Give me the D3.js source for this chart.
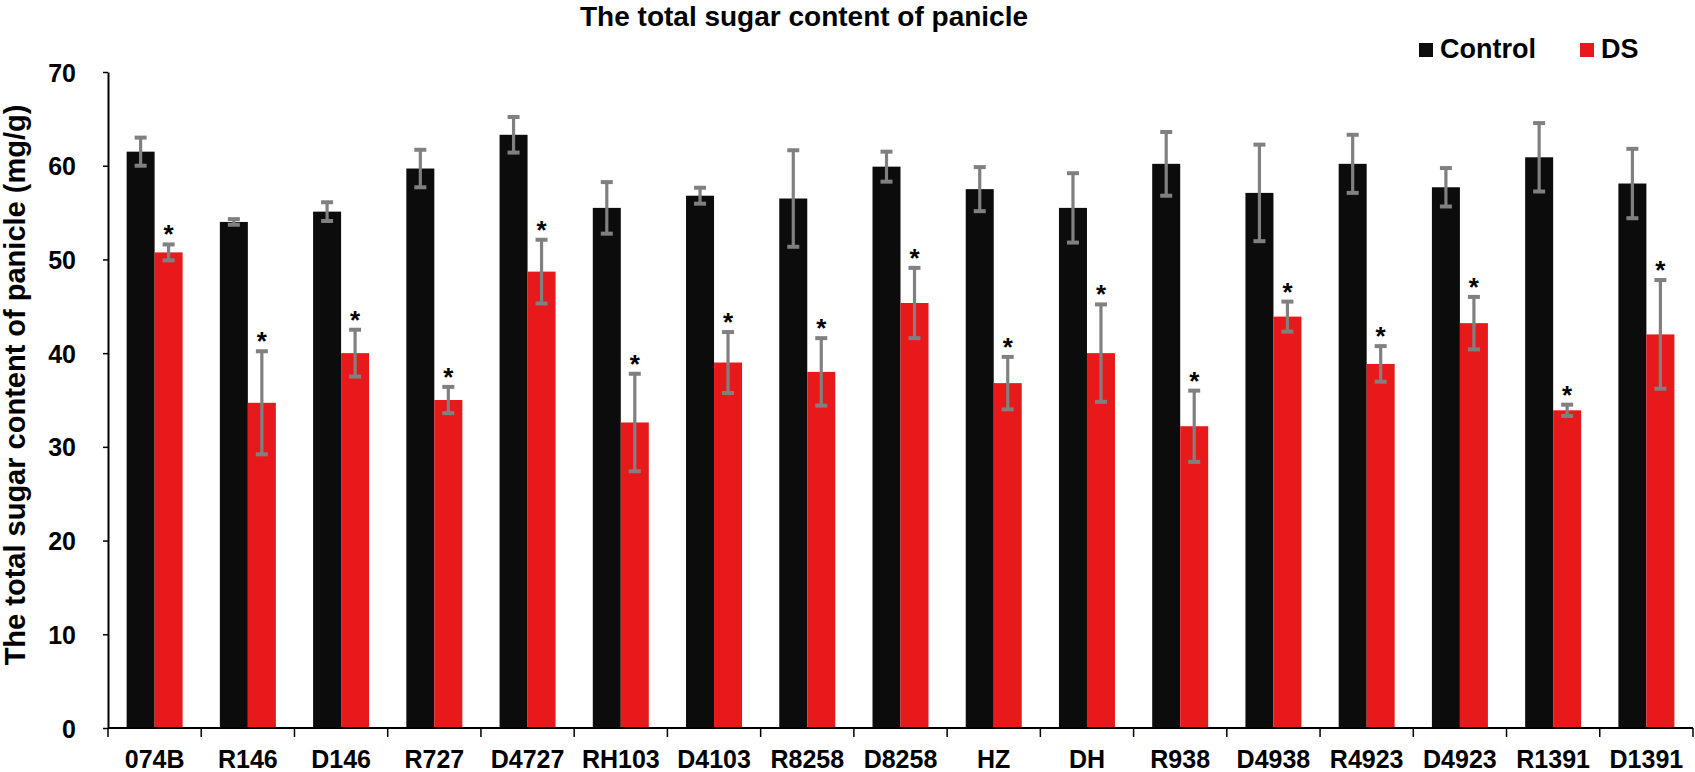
<!DOCTYPE html>
<head>
    <meta charset="utf-8">
    <title>The total sugar content of panicle</title>
    <script src="https://d3js.org/d3.v7.min.js"></script>
    <style>
    body { margin: 0; background: #fff; }
    text { font-family: "Liberation Sans", Arial, sans-serif; font-weight: bold; fill: #000; }
    </style>
</head>

<body>
    <script>
    // data
    var categories = ["074B", "R146", "D146", "R727", "D4727", "RH103", "D4103", "R8258", "D8258",
                      "HZ", "DH", "R938", "D4938", "R4923", "D4923", "R1391", "D1391"];
    var control    = [61.5, 54.0, 55.1, 59.7, 63.3, 55.5, 56.8, 56.5, 59.9, 57.5, 55.5, 60.2, 57.1, 60.2, 57.7, 60.9, 58.1];
    var controlErr = [1.5, 0.3, 1.0, 2.0, 1.9, 2.75, 0.85, 5.15, 1.6, 2.35, 3.7, 3.4, 5.15, 3.1, 2.05, 3.65, 3.7];
    var ds         = [50.75, 34.7, 40.0, 35.0, 48.7, 32.6, 39.0, 38.0, 45.35, 36.8, 40.0, 32.2, 43.9, 38.85, 43.2, 33.9, 42.0];
    var dsErr      = [0.85, 5.5, 2.5, 1.4, 3.4, 5.2, 3.25, 3.6, 3.75, 2.8, 5.2, 3.8, 1.6, 1.9, 2.8, 0.6, 5.8];
    var yTicks     = [0, 10, 20, 30, 40, 50, 60, 70];
    var seriesNames = ["Control", "DS"];
    var colors = ["#0c0c0c", "#e8191b"];

    var width = 1695,
        height = 772,
        barW = 28;

    var svg = d3.select("body").append("svg")
        .attr("width", width)
        .attr("height", height);

    var x = d3.scaleBand().domain(categories).range([108, 1693]).padding(0);
    var y = d3.scaleLinear().domain([0, 70]).range([728, 72]);

    // y axis
    var yAxis = svg.append("g")
        .attr("transform", "translate(108,0)")
        .call(d3.axisLeft(y).tickValues(yTicks).tickSize(5).tickSizeOuter(0).tickPadding(27));
    yAxis.select(".domain").attr("stroke", "#000").attr("stroke-width", 2);
    yAxis.selectAll(".tick line").attr("stroke", "#000").attr("stroke-width", 1.5);
    yAxis.selectAll(".tick text").style("font-size", "25px").attr("dy", "0.36em");

    // bars
    var rows = categories.map(function(c, i) {
        return { cat: c, vals: [control[i], ds[i]], errs: [controlErr[i], dsErr[i]] };
    });

    var group = svg.append("g").selectAll("g")
        .data(rows)
        .enter().append("g")
        .attr("transform", function(d) { return "translate(" + (x(d.cat) + x.bandwidth() / 2) + ",0)"; });

    group.selectAll("rect")
        .data(function(d) { return d.vals; })
        .enter().append("rect")
        .attr("x", function(d, j) { return j === 0 ? -barW : 0; })
        .attr("width", barW)
        .attr("y", function(d) { return y(d); })
        .attr("height", function(d) { return y(0) - y(d); })
        .attr("fill", function(d, j) { return colors[j]; });

    // error bars
    var err = group.selectAll("g.err")
        .data(function(d) { return d.vals.map(function(v, j) { return { v: v, e: d.errs[j], j: j }; }); })
        .enter().append("g")
        .attr("class", "err")
        .attr("transform", function(d) { return "translate(" + (d.j === 0 ? -barW / 2 : barW / 2) + ",0)"; })
        .attr("stroke", "#808080");

    err.append("line")
        .attr("y1", function(d) { return y(d.v + d.e); })
        .attr("y2", function(d) { return y(d.v - d.e); })
        .attr("stroke-width", 3.2);
    err.selectAll("line.cap")
        .data(function(d) { return [d.v + d.e, d.v - d.e]; })
        .enter().append("line")
        .attr("class", "cap")
        .attr("x1", -6).attr("x2", 6)
        .attr("y1", function(d) { return y(d); })
        .attr("y2", function(d) { return y(d); })
        .attr("stroke-width", 4);

    // significance stars over DS bars
    group.append("text")
        .attr("x", barW / 2)
        .attr("y", function(d) { return y(d.vals[1] + d.errs[1]) - 1; })
        .attr("text-anchor", "middle")
        .style("font-size", "26px")
        .text("*");

    // x axis
    var xAxis = svg.append("g").attr("transform", "translate(0,728)");
    xAxis.append("line")
        .attr("x1", 108).attr("x2", 1693)
        .attr("stroke", "#000").attr("stroke-width", 2);
    xAxis.selectAll("line.tk")
        .data(categories.concat([null]))
        .enter().append("line")
        .attr("class", "tk")
        .attr("x1", function(d, i) { return x.range()[0] + i * x.bandwidth(); })
        .attr("x2", function(d, i) { return x.range()[0] + i * x.bandwidth(); })
        .attr("y1", 0).attr("y2", 9)
        .attr("stroke", "#000").attr("stroke-width", 1.5);
    xAxis.selectAll("text")
        .data(categories)
        .enter().append("text")
        .attr("x", function(d) { return x(d) + x.bandwidth() / 2; })
        .attr("y", 40)
        .attr("text-anchor", "middle")
        .style("font-size", "25px")
        .text(function(d) { return d; });

    // titles
    svg.append("text")
        .attr("x", 580).attr("y", 26)
        .style("font-size", "28px")
        .text("The total sugar content of panicle");

    svg.append("text")
        .attr("transform", "translate(25,385) rotate(-90)")
        .attr("text-anchor", "middle")
        .style("font-size", "29px")
        .text("The total sugar content of panicle (mg/g)");

    // legend
    var legendX = [1419, 1580];
    var legend = svg.append("g").selectAll("g")
        .data(seriesNames)
        .enter().append("g")
        .attr("transform", function(d, i) { return "translate(" + legendX[i] + ",43)"; });
    legend.append("rect")
        .attr("width", 14).attr("height", 14)
        .attr("fill", function(d, i) { return colors[i]; });
    legend.append("text")
        .attr("x", 21).attr("y", 15)
        .style("font-size", "27px")
        .text(function(d) { return d; });
    </script>
</body>
